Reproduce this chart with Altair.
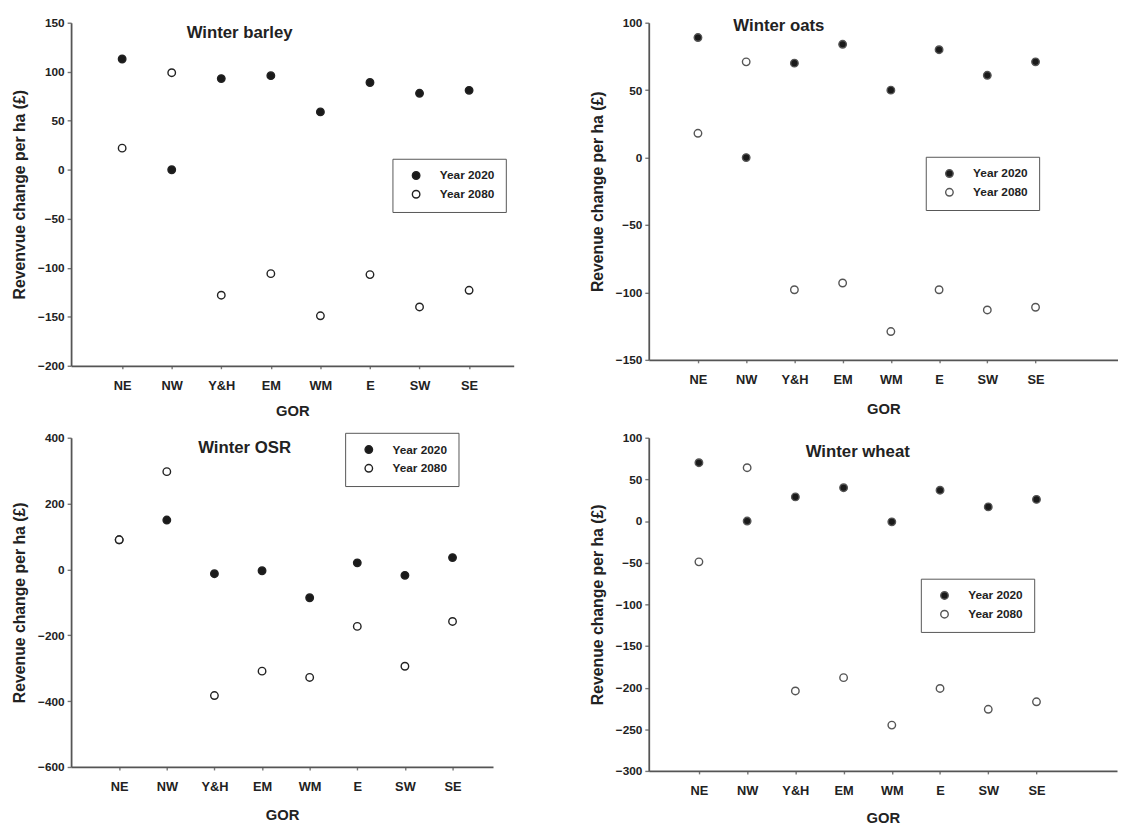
import altair as alt
import pandas as pd

regions = ["NE", "NW", "Y&H", "EM", "WM", "E", "SW", "SE"]
series_names = ["Year 2020", "Year 2080"]

barley_2020 = [113, 0, 93, 96, 59, 89, 78, 81]
barley_2080 = [22, 99, -128, -106, -149, -107, -140, -123]
oats_2020 = [89, 0, 70, 84, 50, 80, 61, 71]
oats_2080 = [18, 71, -98, -93, -129, -98, -113, -111]
osr_2020 = [90, 150, -13, -4, -86, 20, -18, 36]
osr_2080 = [90, 297, -383, -309, -328, -173, -294, -158]
wheat_2020 = [70, 0, 29, 40, -1, 37, 17, 26]
wheat_2080 = [-49, 64, -204, -188, -245, -201, -226, -217]

barley_ticks = [-200, -150, -100, -50, 0, 50, 100, 150]
oats_ticks = [-150, -100, -50, 0, 50, 100]
osr_ticks = [-600, -400, -200, 0, 200, 400]
wheat_ticks = [-300, -250, -200, -150, -100, -50, 0, 50, 100]

FONT = "Liberation Sans"
INK = "#222222"
AXIS = "#555555"

label_expr = "[" + ",".join("'" + r + "'" for r in regions) + "][datum.value]"


def panel(title, v2020, v2080, yticks, ytitle, width, height, xdom,
          legend_xy, title_xy, open_stroke, gor_pad):
    df = pd.DataFrame({
        "idx": list(range(len(regions))) * 2,
        "GOR": regions * 2,
        "value": v2020 + v2080,
        "series": [series_names[0]] * len(regions) + [series_names[1]] * len(regions),
    })
    points = alt.Chart(df).mark_point(
        filled=True, size=58, shape="circle", stroke=open_stroke,
        strokeWidth=1.4, opacity=1,
    ).encode(
        x=alt.X(
            "idx:Q",
            scale=alt.Scale(domain=xdom, nice=False, zero=False),
            axis=alt.Axis(
                values=list(range(len(regions))), labelExpr=label_expr,
                title="GOR", grid=False, tickSize=3, labelPadding=11,
                titlePadding=gor_pad, labelFontSize=13, titleFontSize=15,
            ),
        ),
        y=alt.Y(
            "value:Q",
            scale=alt.Scale(domain=[yticks[0], yticks[-1]], nice=False, zero=False),
            axis=alt.Axis(
                values=yticks, title=ytitle, grid=False, tickSize=4,
                labelPadding=3, titlePadding=10, labelFontSize=12,
                titleFontSize=16,
            ),
        ),
        fill=alt.Fill(
            "series:N",
            scale=alt.Scale(domain=series_names, range=["#1a1a1a", "#ffffff"]),
            legend=alt.Legend(
                title=None, orient="none", legendX=legend_xy[0], legendY=legend_xy[1],
                strokeColor="#555555", padding=11, symbolOffset=7,
                labelOffset=18, rowPadding=5, symbolSize=58, symbolType="circle",
                symbolStrokeColor=open_stroke, symbolStrokeWidth=1.4,
                labelFont=FONT, labelFontSize=12, labelFontWeight="bold",
                labelColor=INK, fillColor="#ffffff",
            ),
        ),
    )
    heading = alt.Chart(pd.DataFrame({"t": [title]})).mark_text(
        font=FONT, fontSize=17, fontWeight="bold", color=INK,
        align="center", baseline="alphabetic",
    ).encode(
        text="t:N", x=alt.value(title_xy[0]), y=alt.value(title_xy[1]),
    )
    return alt.layer(points, heading).properties(width=width, height=height)


tl = panel("Winter barley", barley_2020, barley_2080, barley_ticks,
           "Revenvue change per ha (£)", 449, 348, [-1.03, 7.9],
           (326, 138), (171, 16), "#222222", 11)
tr = panel("Winter oats", oats_2020, oats_2080, oats_ticks,
           "Revenue change per ha (£)", 476, 342, [-1.02, 8.71],
           (281, 136), (132, 8), "#555555", 15)
bl = panel("Winter OSR", osr_2020, osr_2080, osr_ticks,
           "Revenue change per ha (£)", 428, 334, [-1.01, 7.85],
           (278, -5), (176, 15), "#222222", 14)
br = panel("Winter wheat", wheat_2020, wheat_2080, wheat_ticks,
           "Revenue change per ha (£)", 475, 338, [-1.04, 8.67],
           (276, 143), (212, 20), "#555555", 13)

left = alt.vconcat(tl, bl, spacing=14).resolve_scale(fill="independent")
right = alt.vconcat(tr, br, spacing=16).resolve_scale(fill="independent")

chart = alt.hconcat(left, right, spacing=76).resolve_scale(
    fill="independent"
).properties(
    padding={"left": 3, "top": 3, "right": 0, "bottom": 0},
    background="#ffffff",
).configure_view(
    stroke=None
).configure_axis(
    domainColor=AXIS, domainWidth=1.8, tickColor="#777777", tickWidth=1.4,
    labelFont=FONT, labelFontWeight="bold", labelColor=INK,
    titleFont=FONT, titleFontWeight="bold", titleColor=INK,
)

chart.save("out.html", embed_options={"renderer": "svg", "actions": False})
